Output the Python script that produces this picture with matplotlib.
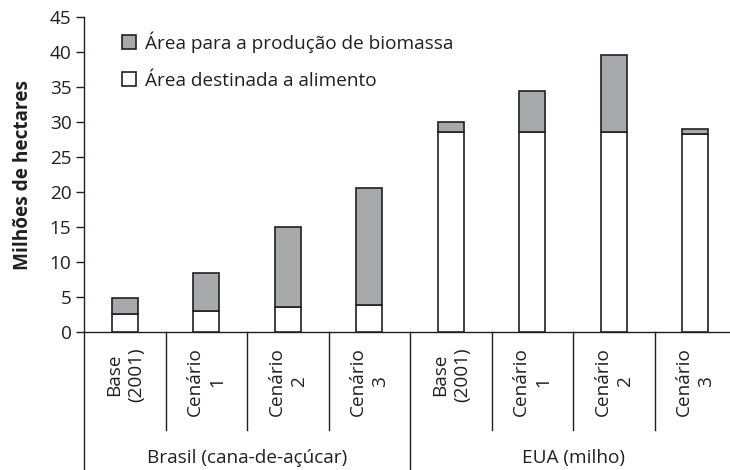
import matplotlib
matplotlib.use('Agg')
import matplotlib.pyplot as plt
from matplotlib.patches import Patch
import numpy as np

plt.rcParams['font.family'] = ['Open Sans', 'DejaVu Sans']

# dados (milhões de hectares)
cenarios = ['Base\n(2001)', 'Cenário\n1', 'Cenário\n2', 'Cenário\n3',
            'Base\n(2001)', 'Cenário\n1', 'Cenário\n2', 'Cenário\n3']
grupos = ['Brasil (cana-de-açúcar)', 'EUA (milho)']
alimento = [2.6, 3.0, 3.6, 3.8, 28.6, 28.6, 28.6, 28.3]
biomassa = [2.2, 5.5, 11.4, 16.8, 1.4, 5.8, 11.0, 0.7]

INK = '#231f20'
CINZA = '#a7a9ac'
FS = 13.7

fig = plt.figure(figsize=(7.3, 4.7), dpi=100)
ax = fig.add_axes([84 / 730, 1 - 332 / 470, 652 / 730, 315 / 470])

x = np.arange(len(cenarios))
w = 0.32
ax.bar(x, alimento, w, color='white', edgecolor=INK, linewidth=1.2, zorder=3)
ax.bar(x, biomassa, w, bottom=alimento, color=CINZA, edgecolor=INK,
       linewidth=1.2, zorder=3)

ax.set_xlim(-0.5, 7.5)
ax.set_ylim(0, 45)
ax.set_yticks(range(0, 46, 5))
ax.tick_params(axis='y', length=6, width=1, color=INK, pad=3,
               labelsize=FS, labelcolor=INK)
ax.set_xticks(x, cenarios, rotation=90, multialignment='center',
              linespacing=1.3)
ax.tick_params(axis='x', length=0, pad=11, labelsize=FS, labelcolor=INK)

for s in ['top', 'right']:
    ax.spines[s].set_visible(False)
ax.spines['left'].set_color(INK)
ax.spines['bottom'].set_color(INK)
ax.spines['left'].set_linewidth(1)
ax.spines['bottom'].set_linewidth(1)

# linhas da tabela abaixo do eixo
tr = ax.get_xaxis_transform()
for xs in [0.5, 1.5, 2.5, 4.5, 5.5, 6.5]:
    ax.plot([xs, xs], [0, -0.311], color=INK, lw=1, transform=tr,
            clip_on=False)
for xs in [-0.5, 3.5, 7.5]:
    ax.plot([xs, xs], [0, -0.5], color=INK, lw=1, transform=tr,
            clip_on=False)

ax.text(1.5, -0.40, grupos[0], transform=tr, ha='center', va='center',
        fontsize=FS, color=INK)
ax.text(5.5, -0.40, grupos[1], transform=tr, ha='center', va='center',
        fontsize=FS, color=INK)

ax.set_ylabel('Milhões de hectares', fontsize=FS, fontweight='bold',
              color=INK, labelpad=12)

handles = [Patch(facecolor=CINZA, edgecolor=INK, linewidth=1.2),
           Patch(facecolor='white', edgecolor=INK, linewidth=1.2)]
ax.legend(handles, ['Área para a produção de biomassa',
                    'Área destinada a alimento'],
          loc='upper left', bbox_to_anchor=(0.058, 0.955), frameon=False,
          fontsize=FS, handlelength=0.75, handleheight=0.75,
          handletextpad=0.45, labelspacing=1.0, labelcolor=INK,
          borderaxespad=0, borderpad=0)

plt.savefig('out.png', dpi=100)
